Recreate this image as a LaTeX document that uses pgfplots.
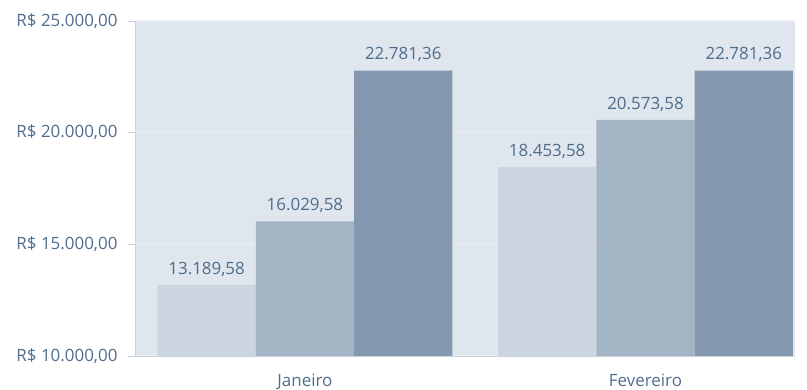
\documentclass[border=0pt]{standalone}
\usepackage{fontspec}
\setmainfont{Open Sans}
\usepackage{pgfplots}
\pgfplotsset{compat=1.18}
\definecolor{bg}{HTML}{DFE6ED}
\definecolor{cA}{HTML}{CAD5DF}
\definecolor{cB}{HTML}{A3B4C4}
\definecolor{cC}{HTML}{8499B0}
\definecolor{txt}{HTML}{4F6D8C}
\definecolor{gridc}{HTML}{ECF0F4}
\definecolor{axc}{HTML}{C9D3DD}
\begin{document}
\begin{tikzpicture}
\useasboundingbox (-135bp,-34bp) rectangle (672bp,356bp);
\begin{axis}[
  at={(0,0)}, anchor=south west,
  scale only axis, width=660bp, height=335bp,
  xmin=-0.499, xmax=1.439, ymin=10000, ymax=25000,
  scaled y ticks=false,
  axis lines=left, axis line style={-, draw=axc, line width=0.8bp},
  axis background/.style={fill=bg},
  ymajorgrids, grid style={draw=gridc, line width=1.2bp},
  ytick={10000,15000,20000,25000},
  yticklabels={{R\$ 10.000,00},{R\$ 15.000,00},{R\$ 20.000,00},{R\$ 25.000,00}},
  xtick={0,1}, xticklabels={Janeiro,Fevereiro},
  major x tick style={draw=none},
  major y tick style={draw=axc, line width=0.8bp},
  tick align=outside, major tick length=7bp,
  yticklabel style={font=\fontsize{17}{18}\selectfont, text=txt, xshift=-7bp},
  xticklabel style={font=\fontsize{17}{18}\selectfont, text=txt, yshift=-8bp},
  ybar=0pt, bar width=0.2887,
  point meta=explicit symbolic,
  nodes near coords,
  nodes near coords style={font=\fontsize{17}{18}\selectfont, text=txt, anchor=south, yshift=5bp},
]
\addplot[fill=cA, draw=none] table[x=x,y=y,meta=l] {
x y l
0 13189.58 13.189,58
1 18453.58 18.453,58
};
\addplot[fill=cB, draw=none] table[x=x,y=y,meta=l] {
x y l
0 16029.58 16.029,58
1 20573.58 20.573,58
};
\addplot[fill=cC, draw=none] table[x=x,y=y,meta=l] {
x y l
0 22781.36 22.781,36
1 22781.36 22.781,36
};
\end{axis}
\end{tikzpicture}
\end{document}
